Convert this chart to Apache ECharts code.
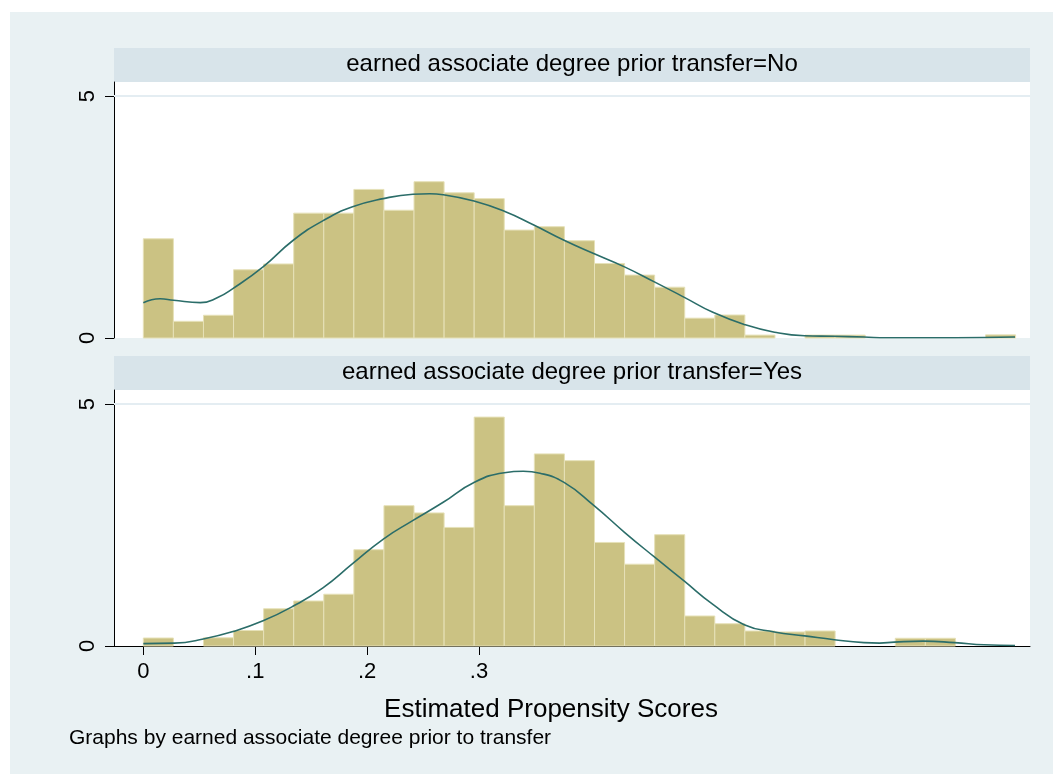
<!DOCTYPE html>
<html>
<head>
<meta charset="utf-8">
<script src="https://cdn.jsdelivr.net/npm/echarts@6/dist/echarts.min.js"></script>
<style>
  html, body { margin: 0; padding: 0; background: #ffffff; }
  #main { width: 1053px; height: 774px; }
</style>
</head>
<body>
<div id="main"></div>
<script>
// ---- data ----------------------------------------------------------------
const panelTitles = [
  'earned associate degree prior transfer=No',
  'earned associate degree prior transfer=Yes'
];

// histogram bins: 29 equal-width bins starting at binStart
const binStart = 0;
const binWidth = 0.02688;

// density of each bin, group "No"
const densityNo = [
  2.05, 0.345, 0.47, 1.41, 1.53, 2.58, 2.58, 3.07, 2.64, 3.23,
  3.00, 2.88, 2.23, 2.30, 2.01, 1.54, 1.30, 1.05, 0.41, 0.475,
  0.06, 0, 0.06, 0.06, 0, 0, 0, 0, 0.065
];

// density of each bin, group "Yes"
const densityYes = [
  0.165, 0, 0.17, 0.32, 0.77, 0.93, 1.07, 1.99, 2.90, 2.75,
  2.45, 4.73, 2.90, 3.97, 3.83, 2.14, 1.69, 2.30, 0.62, 0.46,
  0.31, 0.29, 0.31, 0, 0, 0.16, 0.16, 0, 0
];

// kernel density estimate, group "No"
const kdeNoX = [
  0, 0.015, 0.027, 0.051, 0.066, 0.080, 0.107, 0.134, 0.161, 0.187,
  0.2145, 0.241, 0.256, 0.268, 0.2955, 0.3226, 0.3485, 0.376, 0.403, 0.430,
  0.4567, 0.4835, 0.509, 0.537, 0.564, 0.591, 0.6175, 0.644, 0.664, 0.70,
  0.7516, 0.779
];
const kdeNoY = [
  0.73, 0.81, 0.78, 0.73, 0.83, 1.02, 1.47, 2.02, 2.43, 2.71,
  2.88, 2.97, 2.98, 2.96, 2.83, 2.62, 2.34, 2.02, 1.74, 1.47,
  1.16, 0.84, 0.53, 0.28, 0.12, 0.045, 0.035, 0.02, 0.005, 0.005,
  0.01, 0.02
];

// kernel density estimate, group "Yes"
const kdeYesX = [
  0, 0.0277, 0.0536, 0.0804, 0.107, 0.1337, 0.1605, 0.187, 0.2145, 0.2407,
  0.268, 0.2955, 0.3226, 0.3396, 0.3545, 0.376, 0.4028, 0.43, 0.4567, 0.4835,
  0.509, 0.537, 0.564, 0.591, 0.6175, 0.644, 0.658, 0.671, 0.697, 0.725,
  0.7515, 0.779
];
const kdeYesY = [
  0.05, 0.06, 0.145, 0.30, 0.52, 0.82, 1.20, 1.70, 2.21, 2.59,
  2.97, 3.38, 3.58, 3.61, 3.57, 3.38, 2.90, 2.35, 1.84, 1.34,
  0.86, 0.44, 0.29, 0.21, 0.13, 0.07, 0.06, 0.08, 0.10, 0.07,
  0.025, 0.01
];

const xTickValues = [0, 0.1, 0.2, 0.3];
const xTickLabels = ['0', '.1', '.2', '.3'];
const yTickValues = [0, 5];
const yTickLabels = ['0', '5'];
const xTitle = 'Estimated Propensity Scores';
const noteText = 'Graphs by earned associate degree prior to transfer';

// ---- styling / layout ------------------------------------------------------
const FONT = "'Liberation Sans', Arial, Helvetica, sans-serif";
const BAR_FILL = '#cbc283';
const BAR_EDGE = '#e6e1b8';
const KDE_COLOR = '#2b6d69';
const PAGE_BG = '#e9f1f3';
const STRIP_BG = '#d8e4ea';
const GRID_LINE = '#e4edf2';

const plotLeft = 114, plotWidth = 916, plotHeight = 256;
const panelTops = [82, 390];
const stripHeight = 34;
const xMin = -0.0262, xMax = 0.7924;
const yMax = 5.29;

function bins(values) {
  return values.map((h, i) => [binStart + i * binWidth, binStart + (i + 1) * binWidth, h]);
}
function pairs(xs, ys) {
  return xs.map((x, i) => [x, ys[i]]);
}
function labelFor(values, labels) {
  return v => {
    const i = values.findIndex(t => Math.abs(t - v) < 1e-9);
    return i >= 0 ? labels[i] : '';
  };
}

const renderBin = (params, api) => {
  const h = api.value(2);
  if (!(h > 0)) return null;
  const topLeft = api.coord([api.value(0), h]);
  const bottomRight = api.coord([api.value(1), 0]);
  return {
    type: 'rect',
    shape: {
      x: topLeft[0], y: topLeft[1],
      width: bottomRight[0] - topLeft[0],
      height: bottomRight[1] - topLeft[1]
    },
    style: { fill: BAR_FILL, stroke: BAR_EDGE, lineWidth: 1 }
  };
};

const grids = panelTops.map(top => ({
  left: plotLeft, top: top, width: plotWidth, height: plotHeight,
  show: true, backgroundColor: '#ffffff', borderWidth: 0, containLabel: false
}));

const xAxes = panelTops.map((_, i) => ({
  type: 'value', gridIndex: i, min: xMin, max: xMax,
  axisLine: { show: i === 1, onZero: false, lineStyle: { color: '#000', width: 1 } },
  axisTick: {
    show: i === 1, customValues: xTickValues, length: 9, inside: false,
    lineStyle: { color: '#000', width: 1 }
  },
  axisLabel: {
    show: i === 1, customValues: xTickValues, margin: 15,
    formatter: labelFor(xTickValues, xTickLabels),
    color: '#000', fontSize: 22, fontFamily: FONT
  },
  splitLine: { show: false }
}));

const yAxes = panelTops.map((_, i) => ({
  type: 'value', gridIndex: i, min: 0, max: yMax,
  axisLine: { show: true, onZero: false, lineStyle: { color: '#000', width: 1 } },
  axisTick: {
    show: true, customValues: yTickValues, length: 9,
    lineStyle: { color: '#000', width: 1 }
  },
  axisLabel: {
    show: true, customValues: yTickValues, rotate: 90, margin: 15,
    formatter: labelFor(yTickValues, yTickLabels),
    color: '#000', fontSize: 22, fontFamily: FONT
  },
  splitLine: { show: false }
}));

const groups = [
  { hist: densityNo, kx: kdeNoX, ky: kdeNoY },
  { hist: densityYes, kx: kdeYesX, ky: kdeYesY }
];

const series = [];
groups.forEach((g, i) => {
  series.push({
    type: 'custom', xAxisIndex: i, yAxisIndex: i,
    renderItem: renderBin,
    encode: { x: [0, 1], y: 2 },
    data: bins(g.hist),
    silent: true, z: 2
  });
  series.push({
    type: 'line', xAxisIndex: i, yAxisIndex: i,
    data: pairs(g.kx, g.ky),
    smooth: 0.5,
    showSymbol: false, symbol: 'none',
    lineStyle: { color: KDE_COLOR, width: 1.6 },
    silent: true, z: 3,
    markLine: {
      silent: true, symbol: 'none', label: { show: false },
      lineStyle: { color: GRID_LINE, width: 2, type: 'solid' },
      data: [{ yAxis: 5 }],
      z: 1
    }
  });
});

const titles = [];
panelTitles.forEach((t, i) => {
  titles.push({
    text: t, left: plotLeft + plotWidth / 2, top: panelTops[i] - stripHeight / 2 - 12.5,
    textAlign: 'center', padding: 0,
    textStyle: { fontSize: 24, fontWeight: 'normal', color: '#000', fontFamily: FONT, lineHeight: 24 }
  });
});
titles.push({
  text: xTitle, left: 551, top: 697, padding: 0, textAlign: 'center',
  textStyle: { fontSize: 26, fontWeight: 'normal', color: '#000', fontFamily: FONT, lineHeight: 26 }
});
titles.push({
  text: noteText, left: 69, top: 728, padding: 0,
  textStyle: { fontSize: 21, fontWeight: 'normal', color: '#000', fontFamily: FONT, lineHeight: 21 }
});

const graphics = [
  { type: 'rect', left: 10, top: 12, shape: { width: 1043, height: 762 }, style: { fill: PAGE_BG }, z: -10, silent: true }
];
panelTops.forEach(top => {
  graphics.push({
    type: 'rect', left: plotLeft, top: top - stripHeight,
    shape: { width: plotWidth, height: stripHeight },
    style: { fill: STRIP_BG }, z: -5, silent: true
  });
});

const chart = echarts.init(document.getElementById('main'), null, { renderer: 'canvas' });
chart.setOption({
  backgroundColor: '#ffffff',
  animation: false,
  title: titles,
  graphic: graphics,
  grid: grids,
  xAxis: xAxes,
  yAxis: yAxes,
  series: series
});
</script>
</body>
</html>
